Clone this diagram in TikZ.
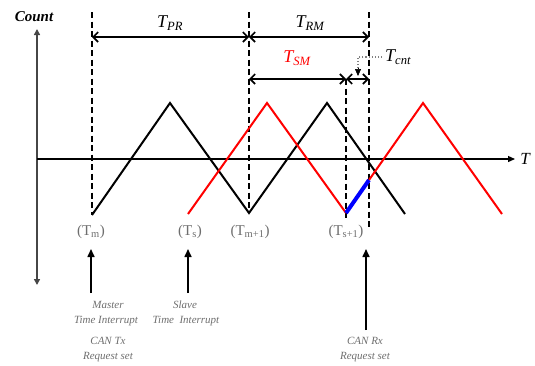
\documentclass[tikz,border=0pt]{standalone}
\usepackage{fontspec}
\setmainfont{Liberation Serif}
\usetikzlibrary{arrows.meta}
\definecolor{lblgray}{RGB}{110,110,110}
\definecolor{axgray}{RGB}{70,70,70}
\begin{document}
\begin{tikzpicture}[x=1pt,y=-1pt,
  wave/.style={line width=2pt},
  redwave/.style={line width=2pt,red},
  bluewave/.style={line width=4pt,blue},
  guide/.style={line width=1.6pt,dash pattern=on 6pt off 3.5pt},
  axisline/.style={line width=1.6pt,axgray},
  dimarrow/.style={line width=1.6pt,{Straight Barb[length=5pt,width=10pt]}-{Straight Barb[length=5pt,width=10pt]}},
  uparrow/.style={line width=1.6pt,-{Triangle[length=8pt,width=7pt]}},
  ptlabel/.style={lblgray,font=\fontsize{15}{17}\selectfont,inner sep=0pt},
  note/.style={lblgray,font=\fontsize{11}{13}\selectfont\itshape,inner sep=0pt},
  dimlabel/.style={font=\fontsize{18}{20}\selectfont\itshape,inner sep=0pt}
]
\useasboundingbox (0,0) rectangle (535,365);

% axes
\coordinate (ya1) at (37,29);
\coordinate (ya2) at (37,285);
\coordinate (xa1) at (37,159);
\coordinate (xa2) at (515,159);
\draw[axisline,{Triangle[length=6pt,width=6pt]}-{Triangle[length=6pt,width=6pt]}] (ya2) -- (ya1);
\draw[line width=1.3pt,-{Triangle[length=7pt,width=6pt]}] (xa1) -- (xa2);
\node[font=\fontsize{15}{17}\selectfont\bfseries\itshape,inner sep=0pt] (cnt) at (34,17) {Count};
\node[font=\fontsize{17}{19}\selectfont\itshape,inner sep=0pt] (tax) at (525,159) {T};

% guide lines
\coordinate (d1t) at (92,12);  \coordinate (d1b) at (92,215);
\coordinate (d2t) at (249,12); \coordinate (d2b) at (249,213);
\coordinate (d3t) at (346,79); \coordinate (d3b) at (346,221);
\coordinate (d4t) at (369,12); \coordinate (d4b) at (369,229);
\draw[guide] (d1t) -- (d1b);
\draw[guide] (d2t) -- (d2b);
\draw[guide] (d3t) -- (d3b);
\draw[guide] (d4t) -- (d4b);

% waveforms
\coordinate (b0) at (92,215);
\coordinate (b1) at (170,103);
\coordinate (b2) at (249,213);
\coordinate (b3) at (327,103);
\coordinate (b4) at (405,214);
\coordinate (r0) at (188,214);
\coordinate (r1) at (267,103);
\coordinate (r2) at (346,213);
\coordinate (r3) at (369,180);
\coordinate (r4) at (423,103);
\coordinate (r5) at (502,214);
\draw[wave,line join=miter] (b0) -- (b1) -- (b2) -- (b3) -- (b4);
\draw[redwave,line join=miter] (r0) -- (r1) -- (r2);
\draw[redwave,line join=miter] (r3) -- (r4) -- (r5);
\draw[bluewave] (r2) -- (r3);

% dimension arrows
\coordinate (p1) at (92,37);
\coordinate (p2) at (249,37);
\coordinate (p3) at (369,37);
\coordinate (q1) at (249,79);
\coordinate (q2) at (346,79);
\coordinate (q3) at (369,79);
\draw[dimarrow] (p1) -- (p2);
\draw[dimarrow] (p2) -- (p3);
\draw[dimarrow] (q1) -- (q2);
\draw[dimarrow] (q2) -- (q3);
\node[dimlabel] (tpr) at (170,23) {T\textsubscript{PR}};
\node[dimlabel] (trm) at (310,23) {T\textsubscript{RM}};
\node[dimlabel,red] (tsm) at (297,58) {T\textsubscript{SM}};
\node[dimlabel,anchor=west] (tcnt) at (385,57) {T\textsubscript{cnt}};
\coordinate (lk) at (358,57);
\coordinate (lt) at (358,76);
\draw[gray,dotted,line width=1.1pt] ([xshift=-3pt]tcnt.west) -- (lk) -- (lt);
\draw[line width=0.6pt,-{Triangle[length=7pt,width=6pt]}] (lt) ++(0,-8) -- (lt);

% time labels
\node[ptlabel] (tm) at (91,232) {(T\textsubscript{m})};
\node[ptlabel] (ts) at (190,232) {(T\textsubscript{s})};
\node[ptlabel] (tm1) at (250,232) {(T\textsubscript{m+1})};
\node[ptlabel] (ts1) at (346,232) {(T\textsubscript{s+1})};

% event arrows
\coordinate (a1b) at (91,293);  \coordinate (a1t) at (91,249);
\coordinate (a2b) at (188,293); \coordinate (a2t) at (188,249);
\coordinate (a3b) at (366,330); \coordinate (a3t) at (366,249);
\draw[uparrow] (a1b) -- (a1t);
\draw[uparrow] (a2b) -- (a2t);
\draw[uparrow] (a3b) -- (a3t);

\node[note] (n1) at (108,305) {Master};
\node[note] (n2) at (106,321) {Time Interrupt};
\node[note] (n3) at (108,341) {CAN Tx};
\node[note] (n4) at (108,357) {Request set};
\node[note] (n5) at (185,305) {Slave};
\node[note] (n6) at (186,321) {Time\ \ Interrupt};
\node[note] (n7) at (365,341) {CAN Rx};
\node[note] (n8) at (365,357) {Request set};
\end{tikzpicture}
\end{document}
